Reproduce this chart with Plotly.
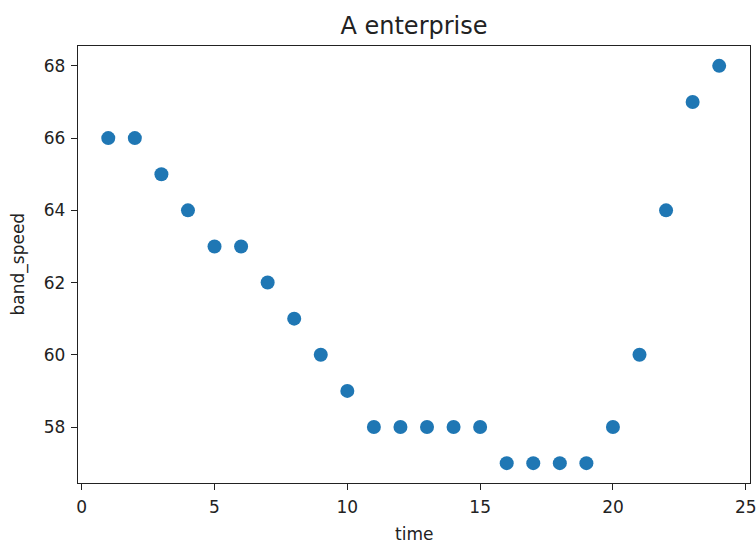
import plotly.graph_objects as go

time = list(range(1, 25))
band_speed = [66, 66, 65, 64, 63, 63, 62, 61, 60, 59, 58, 58, 58, 58, 58,
              57, 57, 57, 57, 58, 60, 64, 67, 68]
x_ticks = [0, 5, 10, 15, 20, 25]
y_ticks = [58, 60, 62, 64, 66, 68]

W, H = 756, 543
L, R, T, B = 78, 6, 46, 60
ph = H - T - B
pw = W - L - R

fig = go.Figure(go.Scatter(
    x=time, y=band_speed, mode="markers",
    marker=dict(color="#1f77b4", size=14, line=dict(width=0)),
))

font = dict(family="DejaVu Sans", size=17, color="#222222")
axis_common = dict(
    showgrid=False, zeroline=False, showline=True, linecolor="#222222",
    linewidth=1.3, mirror=True, ticks="outside", ticklen=6, tickwidth=1.3,
    tickcolor="#222222", tickfont=font, ticklabeloverflow="allow",
    automargin=False,
)
fig.update_xaxes(range=[-0.14, 25.16], tickvals=x_ticks, ticklabelstandoff=2,
                 **axis_common)
fig.update_yaxes(range=[56.45, 68.55], tickvals=y_ticks, ticklabelstandoff=2,
                 **axis_common)

fig.update_layout(
    template="none",
    width=W, height=H,
    margin=dict(l=L, r=R, t=T, b=B, autoexpand=False),
    plot_bgcolor="white", paper_bgcolor="white",
    showlegend=False,
    font=font,
    title=dict(text="A enterprise", x=0.5, xref="paper", xanchor="center",
               y=1 - 26 / H, yref="container", yanchor="middle",
               font=dict(family="DejaVu Sans", size=24, color="#222222")),
    annotations=[
        dict(text="time", x=0.5, xref="paper", y=(483 - 534) / ph, yref="paper",
             xanchor="center", yanchor="middle", showarrow=False, font=font),
        dict(text="band_speed", x=(18 - L) / pw, xref="paper", y=0.5, yref="paper",
             xanchor="center", yanchor="middle", showarrow=False, textangle=-90,
             font=font),
    ],
)

fig.write_html(
    "out.html",
    config={"displayModeBar": False},
    post_script="document.body.style.margin='0';document.body.style.overflow='hidden';",
)
